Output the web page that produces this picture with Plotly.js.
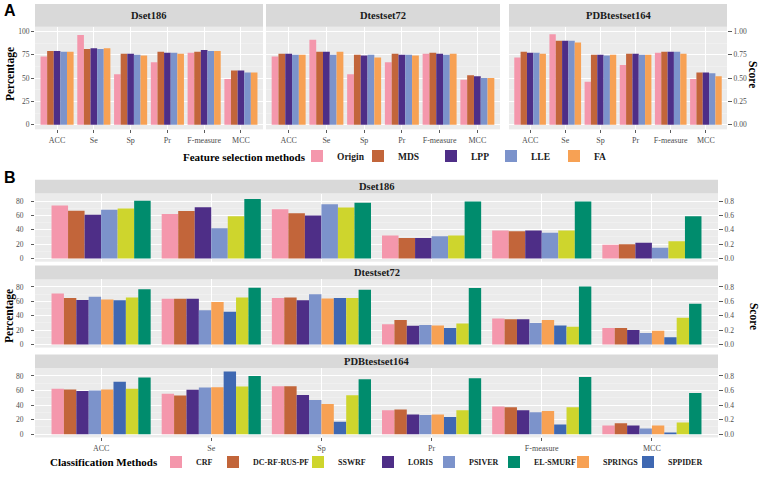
<!DOCTYPE html>
<html>
<head>
<meta charset="utf-8">
<script src="https://cdn.plot.ly/plotly-3.0.1.min.js"></script>
<style>html,body{margin:0;padding:0;background:#fff;}#chart{width:760px;height:477px;}</style>
</head>
<body>
<div id="chart"></div>
<script>
// ---------- shared categories ----------
const categories = ['ACC', 'Se', 'Sp', 'Pr', 'F-measure', 'MCC'];

// ---------- Panel A: feature selection methods (percentage) ----------
const fsMethods = ['Origin', 'MDS', 'LPP', 'LLE', 'FA'];
const fsColors = ['#F497AC', '#C2653A', '#4E2E87', '#7C93CB', '#F7A154'];
const datasetsA = ['Dset186', 'Dtestset72', 'PDBtestset164'];

const Dset186_Origin = [73, 96, 54, 67, 77, 49];
const Dset186_MDS    = [79, 81, 76, 78, 78, 58];
const Dset186_LPP    = [79, 82, 76, 77, 80, 58];
const Dset186_LLE    = [78, 81, 75, 77, 79, 56];
const Dset186_FA     = [78, 82, 74, 76, 79, 56];

const Dtestset72_Origin = [73, 91, 54, 67, 76, 48];
const Dtestset72_MDS    = [76, 78, 75, 76, 77, 53];
const Dtestset72_LPP    = [76, 78, 74, 75, 76, 52];
const Dtestset72_LLE    = [75, 75, 75, 75, 75, 50];
const Dtestset72_FA     = [75, 78, 72, 74, 76, 50];

const PDB164_Origin = [72, 97, 46, 64, 77, 49];
const PDB164_MDS    = [78, 90, 75, 76, 78, 56];
const PDB164_LPP    = [77, 90, 75, 76, 78, 56];
const PDB164_LLE    = [77, 90, 74, 75, 78, 55];
const PDB164_FA     = [76, 88, 75, 75, 76, 52];

// ---------- Panel B: classification methods ----------
// ACC, Se, Sp in percent; Pr, F-measure, MCC as scores (0-1)
const clsMethods = ['CRF', 'DC-RF-RUS-PF', 'LORIS', 'PSIVER', 'SPRINGS', 'SPPIDER', 'SSWRF', 'EL-SMURF'];
const clsColors  = ['#F497AC', '#C2653A', '#4E2E87', '#7C93CB', '#F7A154', '#3F68B2', '#CED52D', '#008C6D'];
const clsLegendOrder = [0, 1, 6, 2, 3, 7, 4, 5]; // CRF, DC-RF-RUS-PF, SSWRF, LORIS, PSIVER, EL-SMURF, SPRINGS, SPPIDER
const datasetsB = ['Dset186', 'Dtestset72', 'PDBtestset164'];

const B_Dset186_CRF     = [74, 62, 68.5, 0.32, 0.39, 0.19];
const B_Dset186_DC      = [66.5, 66, 63, 0.285, 0.38, 0.20];
const B_Dset186_LORIS   = [61, 71.5, 60, 0.285, 0.39, 0.22];
const B_Dset186_PSIVER  = [68, 42, 75.5, 0.31, 0.36, 0.15];
const B_Dset186_SPRINGS = null;
const B_Dset186_SPPIDER = null;
const B_Dset186_SSWRF   = [69.5, 59, 71, 0.32, 0.39, 0.24];
const B_Dset186_EL      = [80.5, 83, 77.5, 0.795, 0.795, 0.59];

const B_Dtest72_CRF     = [71, 63.5, 64.5, 0.28, 0.36, 0.23];
const B_Dtest72_DC      = [64.5, 63.5, 65.5, 0.34, 0.35, 0.23];
const B_Dtest72_LORIS   = [62, 63.5, 61.5, 0.26, 0.35, 0.20];
const B_Dtest72_PSIVER  = [66.5, 47.5, 70, 0.27, 0.30, 0.16];
const B_Dtest72_SPRINGS = [62.5, 59, 64, 0.265, 0.34, 0.19];
const B_Dtest72_SPPIDER = [61.5, 45.5, 64.5, 0.23, 0.265, 0.10];
const B_Dtest72_SSWRF   = [65.5, 65.5, 64.5, 0.29, 0.245, 0.37];
const B_Dtest72_EL      = [77, 79, 76, 0.785, 0.805, 0.565];

const B_PDB164_CRF     = [62.5, 55.5, 66, 0.33, 0.38, 0.12];
const B_PDB164_DC      = [61.5, 53, 66, 0.34, 0.37, 0.15];
const B_PDB164_LORIS   = [59.5, 61, 54, 0.27, 0.33, 0.12];
const B_PDB164_PSIVER  = [60, 64, 47, 0.265, 0.30, 0.08];
const B_PDB164_SPRINGS = [61.5, 64.5, 41.5, 0.27, 0.32, 0.12];
const B_PDB164_SPPIDER = [72, 86, 17, 0.235, 0.135, 0.025];
const B_PDB164_SSWRF   = [62.5, 65.5, 53.5, 0.33, 0.37, 0.16];
const B_PDB164_EL      = [78, 80, 75.5, 0.77, 0.785, 0.565];

const scoreCats = ['Pr', 'F-measure', 'MCC'];

// ---------- build ----------
const W = 760, H = 477;
const px = v => v / W;
const py = v => 1 - v / H;

const dataA = [
  [Dset186_Origin, Dset186_MDS, Dset186_LPP, Dset186_LLE, Dset186_FA],
  [Dtestset72_Origin, Dtestset72_MDS, Dtestset72_LPP, Dtestset72_LLE, Dtestset72_FA],
  [PDB164_Origin, PDB164_MDS, PDB164_LPP, PDB164_LLE, PDB164_FA]
];
const dataB = [
  [B_Dset186_CRF, B_Dset186_DC, B_Dset186_LORIS, B_Dset186_PSIVER, B_Dset186_SPRINGS, B_Dset186_SPPIDER, B_Dset186_SSWRF, B_Dset186_EL],
  [B_Dtest72_CRF, B_Dtest72_DC, B_Dtest72_LORIS, B_Dtest72_PSIVER, B_Dtest72_SPRINGS, B_Dtest72_SPPIDER, B_Dtest72_SSWRF, B_Dtest72_EL],
  [B_PDB164_CRF, B_PDB164_DC, B_PDB164_LORIS, B_PDB164_PSIVER, B_PDB164_SPRINGS, B_PDB164_SPPIDER, B_PDB164_SSWRF, B_PDB164_EL]
];

// legend key placement (left edge of each key, px) - one small legend per entry
const legendKeysA = [311, 372, 445, 505, 568];
const legendKeysB = [170, 227, 312, 382, 443, 508, 577, 642];
const KEY_OFFSET = 14;

const traces = [];
// Panel A traces
dataA.forEach((set, d) => {
  set.forEach((vals, m) => {
    traces.push({
      type: 'bar', x: categories, y: vals,
      name: fsMethods[m], marker: {color: fsColors[m], line: {width: 0}},
      xaxis: d === 0 ? 'x' : 'x' + (d + 1), yaxis: d === 0 ? 'y' : 'y' + (d + 1),
      legend: m === 0 ? 'legend' : 'legend' + (m + 1), legendgroup: 'A' + m, showlegend: d === 0,
      hoverinfo: 'x+y+name'
    });
  });
});
// Panel B traces (scores drawn on the percentage scale, x100)
dataB.forEach((set, d) => {
  set.forEach((vals, m) => {
    if (!vals) return;
    const yv = vals.map((v, i) => scoreCats.includes(categories[i]) ? v * 100 : v);
    const pos = clsLegendOrder.indexOf(m);
    traces.push({
      type: 'bar', x: categories, y: yv,
      name: clsMethods[m], marker: {color: clsColors[m], line: {width: 0}},
      xaxis: 'x' + (4 + d), yaxis: 'y' + (5 + d),
      legend: 'legend' + (6 + pos), legendgroup: 'B' + m, showlegend: d === 1,
      hoverinfo: 'x+y+name'
    });
  });
});
// invisible carriers so that the secondary (Score) axes get drawn
[['x3', 'y4'], ['x4', 'y8'], ['x5', 'y9'], ['x6', 'y10']].forEach(p => {
  traces.push({type: 'scatter', mode: 'markers', x: [categories[0]], y: [null],
    xaxis: p[0], yaxis: p[1], showlegend: false, hoverinfo: 'skip', marker: {opacity: 0}});
});

const serif = 'Liberation Serif, Times New Roman, serif';
const tickFont = {family: serif, size: 8, color: '#4D4D4D'};
const yTickFont = {family: serif, size: 7.5, color: '#4D4D4D'};

function xAxis(domain, anchor, showLabels) {
  return {
    domain: domain, anchor: anchor, type: 'category',
    categoryorder: 'array', categoryarray: categories,
    range: [-0.6, 5.6], showgrid: true, gridcolor: '#FFFFFF', gridwidth: 1,
    zeroline: false, showline: false,
    ticks: showLabels ? 'outside' : '', ticklen: 3, tickcolor: '#333333', tickwidth: 0.8,
    showticklabels: showLabels, tickfont: tickFont, fixedrange: true
  };
}
function yAxis(domain, anchor, range, dtick, minorDtick, showLabels, standoff) {
  return {
    domain: domain, anchor: anchor, range: range,
    tick0: 0, dtick: dtick,
    showgrid: true, gridcolor: '#FFFFFF', gridwidth: 1,
    minor: {tick0: 0, dtick: minorDtick, showgrid: true, gridcolor: '#F6F6F6', gridwidth: 0.5, ticks: ''},
    zeroline: false, showline: false,
    ticks: showLabels ? 'outside' : '', ticklen: 3, tickcolor: '#333333', tickwidth: 0.8,
    ticklabelstandoff: standoff || 0,
    showticklabels: showLabels, tickfont: yTickFont, fixedrange: true
  };
}
function rightAxis(overlay, anchor, range, vals, fmt) {
  return {
    overlaying: overlay, anchor: anchor, side: 'right', range: range,
    tickvals: vals, tickformat: fmt, showgrid: false, zeroline: false, showline: false,
    ticks: 'outside', ticklen: 4, tickcolor: '#333333', tickwidth: 0.8,
    tickfont: yTickFont, fixedrange: true
  };
}

const aY = [py(131), py(27)];
const aX = [[px(35), px(263)], [px(266), px(500)], [px(509), px(727)]];
const bX = [px(35), px(718)];
const bY = [[py(265), py(196)], [py(352), py(283)], [py(443), py(373)]];
const rangeA = [-5, 105];
const rangeB = [-4.4, 90.5];

const layout = {
  width: W, height: H,
  margin: {l: 0, r: 0, t: 0, b: 0},
  paper_bgcolor: '#FFFFFF', plot_bgcolor: '#EBEBEB',
  barmode: 'group', bargap: 0.1, bargroupgap: 0,
  font: {family: serif, color: '#1A1A1A'},
  showlegend: true,
  xaxis: xAxis(aX[0], 'y', true),
  xaxis2: xAxis(aX[1], 'y2', true),
  xaxis3: xAxis(aX[2], 'y3', true),
  yaxis: yAxis(aY, 'x', rangeA, 25, 12.5, true),
  yaxis2: yAxis(aY, 'x2', rangeA, 25, 12.5, false),
  yaxis3: yAxis(aY, 'x3', rangeA, 25, 12.5, false),
  yaxis4: rightAxis('y3', 'x3', [rangeA[0] / 100, rangeA[1] / 100], [0, 0.25, 0.5, 0.75, 1], '.2f'),
  xaxis4: xAxis(bX, 'y5', false),
  xaxis5: xAxis(bX, 'y6', false),
  xaxis6: xAxis(bX, 'y7', true),
  yaxis5: yAxis(bY[0], 'x4', rangeB, 20, 10, true, 6),
  yaxis6: yAxis(bY[1], 'x5', rangeB, 20, 10, true, 6),
  yaxis7: yAxis(bY[2], 'x6', rangeB, 20, 10, true, 6),
  yaxis8: rightAxis('y5', 'x4', [rangeB[0] / 100, rangeB[1] / 100], [0, 0.2, 0.4, 0.6, 0.8], '.1f'),
  yaxis9: rightAxis('y6', 'x5', [rangeB[0] / 100, rangeB[1] / 100], [0, 0.2, 0.4, 0.6, 0.8], '.1f'),
  yaxis10: rightAxis('y7', 'x6', [rangeB[0] / 100, rangeB[1] / 100], [0, 0.2, 0.4, 0.6, 0.8], '.1f'),
  shapes: [],
  annotations: []
};

function legendBox(keyLeft, yCenter, fontSize) {
  return {
    orientation: 'h', x: px(keyLeft - KEY_OFFSET), xanchor: 'left', y: py(yCenter), yanchor: 'middle',
    bgcolor: 'rgba(0,0,0,0)', borderwidth: 0, itemwidth: 30,
    font: {family: serif, size: fontSize, color: '#1A1A1A', weight: 'bold'}
  };
}
legendKeysA.forEach((k, i) => { layout[i === 0 ? 'legend' : 'legend' + (i + 1)] = legendBox(k, 158, 9.5); });
legendKeysB.forEach((k, i) => { layout['legend' + (6 + i)] = legendBox(k, 468, 8); });

// strips
const strips = [
  {name: datasetsA[0], x: aX[0], y: [py(27), py(4)]},
  {name: datasetsA[1], x: aX[1], y: [py(27), py(4)]},
  {name: datasetsA[2], x: aX[2], y: [py(27), py(4)]},
  {name: datasetsB[0], x: bX, y: [py(196), py(182)]},
  {name: datasetsB[1], x: bX, y: [py(283), py(269)]},
  {name: datasetsB[2], x: bX, y: [py(373), py(359)]}
];
strips.forEach(s => {
  layout.shapes.push({type: 'rect', xref: 'paper', yref: 'paper', x0: s.x[0], x1: s.x[1], y0: s.y[0], y1: s.y[1],
    fillcolor: '#D9D9D9', line: {width: 0}, layer: 'below'});
  layout.annotations.push({xref: 'paper', yref: 'paper', x: (s.x[0] + s.x[1]) / 2, y: (s.y[0] + s.y[1]) / 2,
    text: '<b>' + s.name + '</b>', showarrow: false, xanchor: 'center', yanchor: 'middle',
    font: {family: serif, size: 10.5, color: '#1A1A1A'}});
});

// axis titles, legend titles & panel letters
const titleFont = {family: serif, size: 11.5, color: '#000000'};
function note(x, y, text, angle, xa, font) {
  return {xref: 'paper', yref: 'paper', x: px(x), y: py(y), text: text, textangle: angle || 0,
    showarrow: false, xanchor: xa || 'center', yanchor: 'middle', font: font || titleFont};
}
layout.annotations.push(
  note(10, 75, '<b>Percentage</b>', -90),
  note(10, 320, '<b>Percentage</b>', -90),
  note(753, 75, '<b>Score</b>', 90),
  note(754, 320, '<b>Score</b>', 90),
  note(181, 159, '<b>Feature selection methods</b>', 0, 'left', {family: serif, size: 11, color: '#000000'}),
  note(48, 468, '<b>Classification Methods</b>', 0, 'left', {family: serif, size: 11, color: '#000000'}),
  note(2, 11, '<b>A</b>', 0, 'left', {family: 'Liberation Sans, Arial, sans-serif', size: 16, color: '#000000'}),
  note(2, 180, '<b>B</b>', 0, 'left', {family: 'Liberation Sans, Arial, sans-serif', size: 16, color: '#000000'})
);

Plotly.newPlot('chart', traces, layout, {displayModeBar: false, staticPlot: true});
</script>
</body>
</html>
